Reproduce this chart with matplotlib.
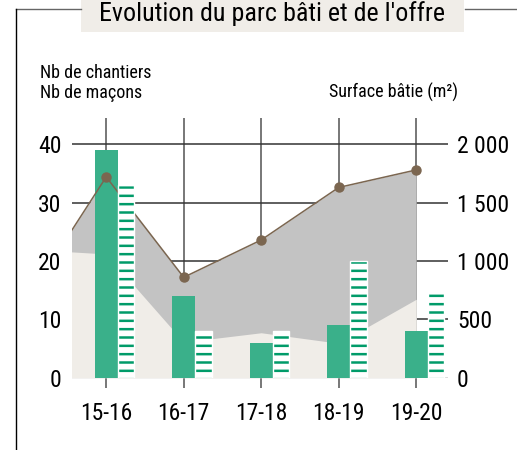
import matplotlib
matplotlib.use("Agg")
import matplotlib.pyplot as plt
import matplotlib.transforms as mtransforms
from matplotlib.lines import Line2D
from matplotlib.patches import Rectangle
import numpy as np

plt.rcParams["font.family"] = ["Roboto Condensed", "Liberation Sans Narrow",
                               "DejaVu Sans Condensed", "Roboto", "DejaVu Sans"]
plt.rcParams["hatch.linewidth"] = 1.8

# saisons (la premiere sert seulement a prolonger les aires a gauche)
saisons = ["14-15", "15-16", "16-17", "17-18", "18-19", "19-20"]
surface_batie = [690, 1720, 860, 1180, 1630, 1780]      # m2, courbe + aire grise
surface_offre = [1100, 1060, 305, 385, 295, 672]        # m2, aire beige
chantiers = [39, 14, 6, 9, 8]                           # barres pleines
macons = [33, 8, 8, 20, 15]                             # barres rayees

M2_PAR_UNITE = 50   # 40 chantiers <-> 2 000 m2

VERT = "#3ab08a"
VERT_RAYE = "#009b69"
GRIS = "#c3c3c3"
BEIGE = "#f0ede8"
BRUN = "#7b6650"

fig = plt.figure(figsize=(5.17, 4.5), dpi=100)
ax = fig.add_axes([0.1387, 0.1607, 0.7278, 0.5771])

x_all = np.arange(len(saisons))
x = x_all[1:]

# aires et courbe en m2 -> echelle de droite
m2 = mtransforms.Affine2D().scale(1, 1 / M2_PAR_UNITE) + ax.transData
ax.fill_between(x_all, 0, surface_batie, color=GRIS, lw=0, transform=m2, zorder=1)
ax.fill_between(x_all, 0, surface_offre, color=BEIGE, lw=0, transform=m2, zorder=1.1)

ax.bar(x, chantiers, width=0.30, color=VERT, lw=0, zorder=2)
ax.plot(x_all, surface_batie, color=BRUN, lw=1.1, marker="o", ms=6.5,
        transform=m2, zorder=3)
ax.bar(x + 0.15, macons, width=0.215, align="edge", color="white",
       edgecolor=VERT_RAYE, hatch="--", lw=0, zorder=4)
ax.bar(x + 0.15, macons, width=0.215, align="edge", color="none",
       edgecolor="white", lw=1.0, zorder=4.1)

ax.set_xlim(0.555, 5.41)
ax.set_ylim(0, 44.5)
ax.set_xticks(x)
ax.set_xticklabels(saisons[1:])
ax.set_yticks([0, 10, 20, 30, 40])
for s in ax.spines.values():
    s.set_visible(False)

ax.set_axisbelow(True)
ax.grid(axis="x", color="#777777", lw=1.4)
ax.grid(axis="y", color="#333333", lw=1.1)
ax.yaxis.get_gridlines()[0].set_color("#d0d0d0")
ax.tick_params(axis="x", length=7.2, width=1.4, color="#777777", pad=10, labelsize=17)
ax.tick_params(axis="y", length=0, pad=7.2, labelsize=17)

sec = ax.secondary_yaxis("right", functions=(lambda v: v * M2_PAR_UNITE,
                                             lambda v: v / M2_PAR_UNITE))
sec.set_yticks([0, 500, 1000, 1500, 2000])
sec.set_yticklabels(["0", "500", "1 000", "1 500", "2 000"])
sec.tick_params(length=0, pad=6.5, labelsize=17)
sec.spines["right"].set_visible(False)

# titres d'axes
fig.text(40 / 517, 1 - 78 / 450, "Nb de chantiers", fontsize=13, va="baseline")
fig.text(40 / 517, 1 - 98 / 450, "Nb de maçons", fontsize=13, va="baseline")
fig.text(458 / 517, 1 - 98 / 450, "Surface bâtie (m²)", fontsize=13,
         va="baseline", ha="right")

# cadre + bandeau de titre
fig.add_artist(Line2D([16 / 517, 81 / 517], [1 - 9 / 450] * 2, color="#666666", lw=1))
fig.add_artist(Line2D([465 / 517, 1], [1 - 9 / 450] * 2, color="#666666", lw=1))
fig.add_artist(Line2D([16 / 517] * 2, [0, 1 - 9 / 450], color="black", lw=1))
fig.add_artist(Rectangle((81 / 517, 1 - 32 / 450), 383 / 517, 32 / 450,
                         transform=fig.transFigure, color=BEIGE, lw=0))
fig.text(272 / 517, 1 - 14 / 450, "Evolution du parc bâti et de l'offre",
         fontsize=18.7, ha="center", va="center")

fig.savefig("out.png", dpi=100)
